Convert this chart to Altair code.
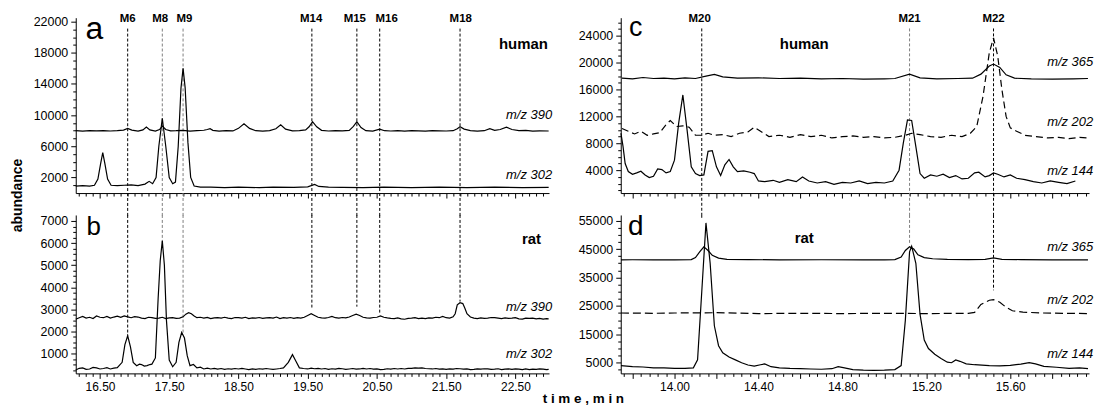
import altair as alt
import pandas as pd

FONT = "Liberation Sans"

# ---------------- data (time in min, abundance) ----------------
# panel a : human, m/z 390 and m/z 302
A390 = [(16.15, 8000), (16.25, 7950), (16.35, 8020), (16.45, 7970), (16.55, 8000), (16.65, 7960),
        (16.75, 8010), (16.84, 8080), (16.90, 8300), (16.96, 8080), (17.05, 7950), (17.12, 8100),
        (17.17, 8480), (17.22, 8100), (17.30, 7960), (17.36, 8150), (17.40, 8600), (17.45, 8150),
        (17.52, 7980), (17.60, 8000), (17.70, 8050), (17.80, 7950), (17.90, 8000), (18.00, 8060),
        (18.05, 8150), (18.09, 8250), (18.13, 8050), (18.22, 7950), (18.32, 8000), (18.42, 7970),
        (18.50, 8300), (18.58, 8900), (18.66, 8300), (18.75, 8000), (18.85, 7950), (18.95, 8010),
        (19.04, 8250), (19.11, 8750), (19.18, 8200), (19.28, 7970), (19.38, 8000), (19.47, 8100),
        (19.52, 8500), (19.57, 9150), (19.63, 8500), (19.70, 8050), (19.80, 7960), (19.90, 8000),
        (20.00, 7980), (20.10, 8050), (20.16, 8550), (20.21, 9150), (20.27, 8400), (20.34, 8000),
        (20.44, 7950), (20.54, 8200), (20.61, 8000), (20.70, 7960), (20.80, 8000), (20.90, 7950),
        (21.00, 8000), (21.10, 7970), (21.20, 7950), (21.30, 8010), (21.40, 7990), (21.50, 7960),
        (21.60, 8000), (21.66, 8250), (21.70, 8500), (21.76, 8200), (21.85, 8000), (21.95, 7950),
        (22.05, 8000), (22.13, 8250), (22.20, 8050), (22.28, 8150), (22.37, 8450), (22.45, 8150),
        (22.55, 8000), (22.65, 8050), (22.75, 7950), (22.85, 7980), (22.98, 7960)]
A302 = [(16.15, 900), (16.25, 950), (16.35, 900), (16.42, 1000), (16.47, 1800), (16.51, 3800),
        (16.54, 5200), (16.57, 3800), (16.61, 1800), (16.66, 1000), (16.75, 950), (16.85, 1000),
        (16.95, 1050), (17.05, 950), (17.15, 1150), (17.21, 1500), (17.26, 1200), (17.31, 2000),
        (17.35, 6000), (17.40, 9600), (17.45, 6000), (17.50, 2000), (17.55, 1200), (17.59, 1400),
        (17.63, 6000), (17.67, 13500), (17.70, 16000), (17.73, 13500), (17.77, 6500), (17.81, 2000),
        (17.86, 900), (17.95, 750), (18.10, 760), (18.30, 700), (18.50, 750), (18.80, 700),
        (19.00, 750), (19.30, 740), (19.50, 800), (19.60, 1100), (19.66, 850), (19.80, 750),
        (20.00, 740), (20.30, 700), (20.60, 750), (21.00, 700), (21.40, 750), (21.80, 700),
        (22.20, 750), (22.60, 700), (22.98, 720)]

# panel b : rat, m/z 390 and m/z 302
B390 = [(16.15, 2550), (16.20, 2620), (16.25, 2680), (16.30, 2600), (16.35, 2640), (16.40, 2580),
        (16.45, 2700), (16.50, 2640), (16.55, 2620), (16.60, 2680), (16.65, 2600), (16.70, 2650),
        (16.75, 2690), (16.80, 2640), (16.85, 2700), (16.90, 2660), (16.95, 2620), (17.00, 2670),
        (17.05, 2650), (17.10, 2600), (17.15, 2580), (17.20, 2640), (17.25, 2620), (17.30, 2590),
        (17.35, 2600), (17.40, 2640), (17.45, 2580), (17.50, 2610), (17.55, 2620), (17.60, 2590),
        (17.65, 2600), (17.70, 2660), (17.74, 2780), (17.78, 2850), (17.82, 2800), (17.86, 2700),
        (17.90, 2620), (17.95, 2640), (18.00, 2600), (18.05, 2630), (18.10, 2580), (18.15, 2610),
        (18.20, 2620), (18.25, 2600), (18.30, 2640), (18.35, 2600), (18.40, 2580), (18.45, 2630),
        (18.50, 2620), (18.55, 2600), (18.60, 2640), (18.65, 2580), (18.70, 2610), (18.75, 2600),
        (18.80, 2630), (18.85, 2590), (18.90, 2610), (18.95, 2620), (19.00, 2600), (19.05, 2650),
        (19.10, 2580), (19.15, 2620), (19.20, 2600), (19.25, 2630), (19.30, 2590), (19.35, 2620),
        (19.40, 2600), (19.45, 2640), (19.50, 2720), (19.55, 2800), (19.60, 2720), (19.65, 2640),
        (19.70, 2610), (19.75, 2600), (19.80, 2630), (19.85, 2680), (19.90, 2620), (19.95, 2600),
        (20.00, 2630), (20.05, 2610), (20.10, 2650), (20.15, 2720), (20.20, 2780), (20.25, 2720),
        (20.30, 2640), (20.35, 2610), (20.40, 2600), (20.45, 2630), (20.50, 2640), (20.55, 2700),
        (20.60, 2640), (20.65, 2610), (20.70, 2590), (20.75, 2580), (20.80, 2610), (20.85, 2570),
        (20.90, 2550), (20.95, 2590), (21.00, 2600), (21.05, 2620), (21.10, 2580), (21.15, 2600),
        (21.20, 2580), (21.25, 2610), (21.30, 2600), (21.35, 2640), (21.40, 2620), (21.45, 2680),
        (21.50, 2620), (21.55, 2600), (21.60, 2660), (21.63, 2800), (21.66, 3200), (21.70, 3300),
        (21.74, 3260), (21.77, 3050), (21.80, 2800), (21.85, 2650), (21.90, 2600), (21.95, 2580),
        (22.00, 2610), (22.05, 2590), (22.10, 2600), (22.15, 2630), (22.20, 2620), (22.25, 2600),
        (22.30, 2580), (22.35, 2610), (22.40, 2590), (22.45, 2600), (22.50, 2620), (22.55, 2570),
        (22.60, 2560), (22.65, 2600), (22.70, 2590), (22.75, 2600), (22.80, 2570), (22.85, 2590),
        (22.90, 2560), (22.95, 2580), (22.98, 2570)]
B302 = [(16.15, 250), (16.20, 330), (16.25, 350), (16.30, 280), (16.35, 300), (16.40, 370),
        (16.45, 350), (16.50, 300), (16.55, 320), (16.60, 360), (16.65, 300), (16.70, 340),
        (16.75, 360), (16.82, 600), (16.86, 1400), (16.90, 1800), (16.94, 1300), (16.98, 600),
        (17.03, 450), (17.07, 520), (17.10, 500), (17.14, 430), (17.18, 450), (17.22, 500),
        (17.25, 520), (17.30, 800), (17.34, 3500), (17.37, 5200), (17.40, 6100), (17.43, 5000),
        (17.46, 2500), (17.50, 700), (17.55, 400), (17.60, 600), (17.64, 1500), (17.68, 1950),
        (17.72, 1700), (17.76, 900), (17.80, 450), (17.85, 500), (17.90, 350), (17.95, 380),
        (18.00, 300), (18.05, 340), (18.10, 300), (18.15, 330), (18.20, 290), (18.25, 320),
        (18.30, 280), (18.35, 310), (18.40, 290), (18.45, 320), (18.50, 300), (18.55, 330),
        (18.60, 300), (18.65, 270), (18.70, 300), (18.75, 280), (18.80, 310), (18.85, 290),
        (18.90, 320), (18.95, 300), (19.00, 280), (19.05, 300), (19.10, 320), (19.15, 350),
        (19.22, 600), (19.28, 950), (19.33, 650), (19.38, 350), (19.44, 320), (19.50, 300),
        (19.55, 340), (19.60, 310), (19.65, 330), (19.70, 300), (19.75, 320), (19.80, 280),
        (19.85, 310), (19.90, 290), (19.95, 330), (20.00, 310), (20.05, 280), (20.10, 300),
        (20.15, 320), (20.20, 290), (20.25, 300), (20.30, 330), (20.35, 300), (20.40, 320),
        (20.45, 290), (20.50, 300), (20.55, 270), (20.60, 280), (20.65, 310), (20.70, 290),
        (20.75, 320), (20.80, 300), (20.85, 320), (20.90, 300), (20.95, 330), (21.00, 330),
        (21.05, 350), (21.10, 340), (21.15, 350), (21.20, 320), (21.25, 310), (21.30, 300),
        (21.35, 320), (21.40, 290), (21.45, 300), (21.50, 280), (21.55, 300), (21.60, 290),
        (21.65, 320), (21.70, 310), (21.75, 290), (21.80, 300), (21.85, 270), (21.90, 280),
        (21.95, 300), (22.00, 290), (22.05, 310), (22.10, 300), (22.15, 280), (22.20, 290),
        (22.25, 310), (22.30, 270), (22.35, 290), (22.40, 300), (22.45, 280), (22.50, 300),
        (22.55, 290), (22.60, 270), (22.65, 300), (22.70, 270), (22.75, 290), (22.80, 280),
        (22.85, 300), (22.90, 290), (22.95, 270), (22.98, 280)]

# panel c : human, m/z 365, 202 (dashed) and 144
C365 = [(13.75, 17700), (13.80, 17600), (13.85, 17800), (13.90, 17650), (13.95, 17700), (14.00, 17600),
        (14.05, 17750), (14.10, 17650), (14.15, 18000), (14.19, 18250), (14.23, 17900), (14.30, 17700),
        (14.40, 17750), (14.50, 17650), (14.60, 17700), (14.70, 17600), (14.80, 17650), (14.90, 17550),
        (15.00, 17600), (15.05, 17650), (15.12, 18300), (15.17, 17750), (15.25, 17600), (15.35, 17650),
        (15.42, 17700), (15.46, 18300), (15.50, 19500), (15.52, 19800), (15.55, 19300), (15.58, 18200),
        (15.62, 17700), (15.70, 17600), (15.80, 17550), (15.90, 17600), (15.97, 17650)]
C202 = [(13.75, 10200), (13.78, 9800), (13.81, 9400), (13.84, 9800), (13.87, 9200), (13.90, 9400),
        (13.93, 9600), (13.96, 10800), (13.98, 11400), (14.01, 10500), (14.04, 10600), (14.07, 10400),
        (14.10, 9200), (14.13, 9200), (14.16, 9500), (14.19, 9200), (14.23, 9300), (14.27, 9000),
        (14.31, 9500), (14.35, 9700), (14.38, 10400), (14.41, 9800), (14.45, 9000), (14.50, 9200),
        (14.55, 8900), (14.60, 9300), (14.65, 9000), (14.70, 9200), (14.75, 8800), (14.80, 9000),
        (14.85, 9100), (14.90, 8900), (14.95, 9000), (15.00, 8800), (15.05, 8900), (15.10, 9200),
        (15.13, 9500), (15.17, 9300), (15.22, 9000), (15.27, 8900), (15.32, 9200), (15.37, 9000),
        (15.41, 9500), (15.44, 10500), (15.47, 15000), (15.50, 21500), (15.52, 23700), (15.54, 21000),
        (15.56, 16000), (15.58, 12000), (15.60, 10300), (15.63, 9800), (15.67, 9200), (15.72, 9000),
        (15.78, 8800), (15.83, 8900), (15.88, 8700), (15.93, 8900), (15.97, 8800)]
C144 = [(13.745, 9500), (13.755, 7500), (13.765, 5000), (13.78, 3800), (13.80, 3400), (13.82, 3600),
        (13.84, 3850), (13.86, 3300), (13.88, 2900), (13.90, 3100), (13.92, 4200), (13.94, 4100),
        (13.96, 3600), (13.98, 3800), (14.00, 5500), (14.02, 11000), (14.04, 15200), (14.06, 10000),
        (14.08, 4500), (14.10, 3500), (14.12, 3200), (14.14, 3300), (14.16, 6800), (14.18, 6900),
        (14.20, 4500), (14.22, 3200), (14.24, 4800), (14.26, 5600), (14.28, 4500), (14.30, 3800),
        (14.33, 3900), (14.36, 3700), (14.38, 3500), (14.40, 2400), (14.43, 2300), (14.47, 2500),
        (14.50, 2200), (14.54, 2600), (14.58, 2300), (14.61, 3000), (14.64, 2400), (14.68, 2100),
        (14.72, 2300), (14.76, 1900), (14.80, 2200), (14.84, 2100), (14.88, 2400), (14.92, 2000),
        (14.96, 2200), (15.00, 2100), (15.04, 2400), (15.07, 4000), (15.09, 8000), (15.11, 11500),
        (15.13, 11400), (15.15, 7500), (15.17, 3500), (15.19, 2800), (15.22, 3300), (15.25, 3100),
        (15.28, 3400), (15.31, 2900), (15.34, 3200), (15.37, 2700), (15.40, 2800), (15.43, 3600),
        (15.45, 3700), (15.48, 3000), (15.50, 3200), (15.52, 3600), (15.54, 3400), (15.57, 3000),
        (15.60, 3300), (15.63, 2800), (15.67, 2600), (15.71, 2300), (15.75, 2100), (15.79, 2400),
        (15.83, 2200), (15.87, 2000), (15.91, 2400)]

# panel d : rat, m/z 365, 202 (dashed) and 144
D365 = [(13.745, 41200), (13.80, 41250), (13.90, 41200), (14.00, 41200), (14.08, 41300), (14.10, 42000),
        (14.12, 44000), (14.14, 45800), (14.16, 44500), (14.18, 42800), (14.21, 41800), (14.25, 41400),
        (14.35, 41300), (14.50, 41200), (14.70, 41250), (14.90, 41200), (15.00, 41200), (15.05, 41300),
        (15.08, 42200), (15.10, 44500), (15.12, 45800), (15.14, 45000), (15.16, 43000), (15.19, 42000),
        (15.23, 41600), (15.30, 41400), (15.40, 41300), (15.48, 41400), (15.52, 41900), (15.56, 41400),
        (15.65, 41300), (15.80, 41200), (15.97, 41200)]
D202 = [(13.745, 22500), (13.90, 22400), (14.00, 22500), (14.20, 22600), (14.40, 22300), (14.60, 22400),
        (14.80, 22300), (15.00, 22400), (15.20, 22300), (15.40, 22400), (15.43, 22700), (15.46, 25500),
        (15.50, 27000), (15.52, 27200), (15.55, 26300), (15.58, 24500), (15.61, 23300), (15.66, 22800),
        (15.75, 22500), (15.85, 22400), (15.97, 22300)]
D144 = [(13.745, 4000), (13.80, 3600), (13.85, 3500), (13.90, 3200), (13.95, 3200), (14.00, 3000),
        (14.05, 3000), (14.09, 3200), (14.11, 6000), (14.13, 30000), (14.15, 54200), (14.17, 40000),
        (14.19, 18000), (14.21, 11000), (14.23, 8500), (14.26, 7000), (14.29, 6000), (14.32, 5000),
        (14.35, 4200), (14.38, 3800), (14.41, 4300), (14.43, 4600), (14.46, 3600), (14.50, 3200),
        (14.55, 3000), (14.60, 2900), (14.65, 2800), (14.70, 2700), (14.75, 2900), (14.78, 3600),
        (14.81, 3200), (14.85, 2600), (14.90, 2400), (14.95, 2300), (15.00, 2400), (15.05, 2600),
        (15.08, 4000), (15.10, 20000), (15.12, 44000), (15.13, 46000), (15.15, 40000), (15.17, 22000),
        (15.19, 13000), (15.21, 10000), (15.24, 8000), (15.27, 6500), (15.30, 5200), (15.32, 5000),
        (15.34, 6000), (15.36, 5500), (15.39, 4600), (15.43, 4300), (15.50, 4000), (15.55, 3900),
        (15.60, 4100), (15.65, 4500), (15.69, 5000), (15.72, 4600), (15.76, 3700), (15.82, 3400),
        (15.88, 3000), (15.93, 3200), (15.97, 2900)]

# metabolite markers
AB_MARK_NAMES = ["M6", "M8", "M9", "M14", "M15", "M16", "M18"]
AB_MARK_TIMES = [16.90, 17.40, 17.70, 19.56, 20.21, 20.54, 21.70]
AB_LABEL_TIMES = [16.90, 17.37, 17.72, 19.55, 20.18, 20.64, 21.71]
B_MARK_ENDS = [1810, 6000, 1950, 3080, 3120, 2760, 3350]
CD_MARK_NAMES = ["M20", "M21", "M22"]
CD_MARK_TIMES = [14.13, 15.12, 15.52]
CD_LABEL_TIMES = [14.12, 15.12, 15.52]
D_MARK_ENDS = [56000, 46500, 30500]
GREY_MARKS = ["M8", "M9", "M21"]

# tick labels
AB_X_LABELS = [16.5, 17.5, 18.5, 19.5, 20.5, 21.5, 22.5]
CD_X_LABELS = [14.0, 14.4, 14.8, 15.2, 15.6]
CD_X_MAJOR = [13.8, 14.0, 14.2, 14.4, 14.6, 14.8, 15.0, 15.2, 15.4, 15.6, 15.8]
A_Y_LABELS = [2000, 6000, 10000, 14000, 18000, 22000]
B_Y_LABELS = [1000, 2000, 3000, 4000, 5000, 6000, 7000]
C_Y_LABELS = [4000, 8000, 12000, 16000, 20000, 24000]
D_Y_LABELS = [5000, 15000, 25000, 35000, 45000, 55000]

# ---------------- helpers ----------------
AB_DOMAIN = [16.15, 22.985]
CD_DOMAIN = [13.744, 15.975]
W1, W2, H1, H2 = 475, 470, 176, 159


def xaxis(values, labeled, major, show, title=None, **kw):
    lab = "[" + ",".join(f"'{v:.2f}'" for v in labeled) + "]"
    maj = "[" + ",".join(f"'{v:.2f}'" for v in major) + "]"
    args = dict(
        values=values, labels=show, grid=False, labelOverlap=False, labelFlush=False,
        labelExpr=f"indexof({lab}, format(datum.value, '.2f')) >= 0 ? format(datum.value, '.2f') : ''",
        tickSize={"condition": {"test": f"indexof({maj}, format(datum.value, '.2f')) >= 0", "value": 5},
                  "value": 3},
    )
    args["title"] = title if title else None
    args.update(kw)
    return alt.Axis(**args)


def yaxis(values, labeled, title=None, **kw):
    lab = "[" + ",".join(str(v) for v in labeled) + "]"
    args = dict(
        values=values, grid=False, labelOverlap=False,
        labelExpr=f"indexof({lab}, datum.value) >= 0 ? format(datum.value, 'd') : ''",
        tickSize={"condition": {"test": f"indexof({lab}, datum.value) >= 0", "value": 5}, "value": 3},
    )
    args["title"] = title if title else None
    args.update(kw)
    return alt.Axis(**args)


def trace(pairs, X, Y, dash=None):
    df = pd.DataFrame(pairs, columns=["t", "v"])
    kw = dict(color="black", strokeWidth=1.2, interpolate="linear")
    if dash:
        kw["strokeDash"] = dash
    return alt.Chart(df).mark_line(**kw).encode(x=X, y=Y)


def rules(names, times, y_from, y_to, X, Y):
    df = pd.DataFrame({"name": names, "t": times, "v": [y_from] * len(names), "v2": y_to})
    return alt.Chart(df).mark_rule(strokeDash=[3, 2], strokeWidth=1).encode(
        x=X, y=Y, y2="v2:Q",
        color=alt.condition(alt.FieldOneOfPredicate(field="name", oneOf=GREY_MARKS),
                            alt.value("#808080"), alt.value("black")))


def texts(labels, times, values, X, Y, **style):
    df = pd.DataFrame({"label": labels, "t": times, "v": values})
    return alt.Chart(df).mark_text(font=FONT, color="black", **style).encode(x=X, y=Y, text="label:N")


ab_ticks = [round(16.2 + 0.1 * i, 2) for i in range(68)]
cd_ticks = [round(13.76 + 0.04 * i, 2) for i in range(56)]

# ---------------- panel a ----------------
XA = alt.X("t:Q", scale=alt.Scale(domain=AB_DOMAIN, nice=False, zero=False),
           axis=xaxis(ab_ticks, AB_X_LABELS, AB_X_LABELS, False))
YA = alt.Y("v:Q", scale=alt.Scale(domain=[0, 22500], nice=False, zero=False),
           axis=yaxis(list(range(1000, 22001, 1000)), A_Y_LABELS, title="abundance",
                      titleX=-58, titleY=178, titleAngle=270, titleAlign="center",
                      titleBaseline="middle", titleFontSize=14, titleFontWeight="bold",
                      titleFont=FONT, titleColor="black"))
panel_a = alt.layer(
    rules(AB_MARK_NAMES, AB_MARK_TIMES, 21100, -2900, XA, YA),
    trace(A390, XA, YA),
    trace(A302, XA, YA),
    texts(AB_MARK_NAMES, AB_LABEL_TIMES, [22370] * 7, XA, YA, fontSize=11.5, fontWeight="bold"),
    texts(["a"], [16.42], [19800], XA, YA, fontSize=32, baseline="alphabetic"),
    texts(["human"], [22.97], [19170], XA, YA, fontSize=15, fontWeight="bold", align="right"),
    texts(["m/z 390", "m/z 302"], [23.03, 23.03], [9960, 2280], XA, YA, fontSize=13,
          fontStyle="italic", align="right"),
).properties(width=W1, height=H1)

# ---------------- panel b ----------------
XB = alt.X("t:Q", scale=alt.Scale(domain=AB_DOMAIN, nice=False, zero=False),
           axis=xaxis(ab_ticks, AB_X_LABELS, AB_X_LABELS, True, title="t i m e ,   m i n",
                      titleX=509, titleY=25, titleBaseline="middle", titleAlign="center",
                      titleFontSize=13.5, titleFontWeight="bold", titleFont=FONT, titleColor="black"))
YB = alt.Y("v:Q", scale=alt.Scale(domain=[100, 7270], nice=False, zero=False),
           axis=yaxis(list(range(250, 7001, 250)), B_Y_LABELS))
panel_b = alt.layer(
    rules(AB_MARK_NAMES, AB_MARK_TIMES, 7270, B_MARK_ENDS, XB, YB),
    trace(B390, XB, YB),
    trace(B302, XB, YB),
    texts(["b"], [16.41], [6370], XB, YB, fontSize=26, baseline="alphabetic"),
    texts(["rat"], [22.87], [6190], XB, YB, fontSize=15, fontWeight="bold", align="right"),
    texts(["m/z 390", "m/z 302"], [23.03, 23.03], [3120, 955], XB, YB, fontSize=13,
          fontStyle="italic", align="right"),
).properties(width=W1, height=H2)

# ---------------- panel c ----------------
XC = alt.X("t:Q", scale=alt.Scale(domain=CD_DOMAIN, nice=False, zero=False),
           axis=xaxis(cd_ticks, CD_X_LABELS, CD_X_MAJOR, False))
YC = alt.Y("v:Q", scale=alt.Scale(domain=[600, 26700], nice=False, zero=False),
           axis=yaxis(list(range(1000, 26001, 1000)), C_Y_LABELS))
panel_c = alt.layer(
    rules(CD_MARK_NAMES, CD_MARK_TIMES, 25100, -2660, XC, YC),
    trace(C365, XC, YC),
    trace(C202, XC, YC, dash=[7, 4]),
    trace(C144, XC, YC),
    texts(CD_MARK_NAMES, CD_LABEL_TIMES, [26550] * 3, XC, YC, fontSize=11.5, fontWeight="bold"),
    texts(["c"], [13.815], [24040], XC, YC, fontSize=27, baseline="alphabetic"),
    texts(["human"], [14.735], [22850], XC, YC, fontSize=15, fontWeight="bold", align="right"),
    texts(["m/z 365", "m/z 202", "m/z 144"], [15.995] * 3, [20040, 11160, 3900], XC, YC,
          fontSize=13, fontStyle="italic", align="right"),
).properties(width=W2, height=H1)

# ---------------- panel d ----------------
XD = alt.X("t:Q", scale=alt.Scale(domain=CD_DOMAIN, nice=False, zero=False),
           axis=xaxis(cd_ticks, CD_X_LABELS, CD_X_MAJOR, True))
YD = alt.Y("v:Q", scale=alt.Scale(domain=[1250, 57000], nice=False, zero=False),
           axis=yaxis(list(range(2500, 57001, 2500)), D_Y_LABELS))
panel_d = alt.layer(
    rules(CD_MARK_NAMES, CD_MARK_TIMES, 57000, D_MARK_ENDS, XD, YD),
    trace(D365, XD, YD),
    trace(D202, XD, YD, dash=[8, 4]),
    trace(D144, XD, YD),
    texts(["d"], [13.815], [50000], XD, YD, fontSize=28, baseline="alphabetic"),
    texts(["rat"], [14.664], [48900], XD, YD, fontSize=15, fontWeight="bold", align="right"),
    texts(["m/z 365", "m/z 202", "m/z 144"], [15.995] * 3, [45780, 27200, 7920], XD, YD,
          fontSize=13, fontStyle="italic", align="right"),
).properties(width=W2, height=H2)

chart = alt.concat(
    panel_a, panel_c, panel_b, panel_d, columns=2,
    spacing={"row": 22, "column": 72}, bounds="flush",
).properties(
    padding={"left": 3, "top": 4, "right": 0, "bottom": 0},
    background="white",
).configure_view(stroke=None).configure_axis(
    labelFont=FONT, labelColor="black", domainColor="black", tickColor="black",
    domainWidth=1, tickWidth=1, labelPadding=3,
).configure_axisX(labelFontSize=12).configure_axisY(labelFontSize=12.5)

chart.save("out.html", embed_options={"renderer": "svg", "actions": False})
